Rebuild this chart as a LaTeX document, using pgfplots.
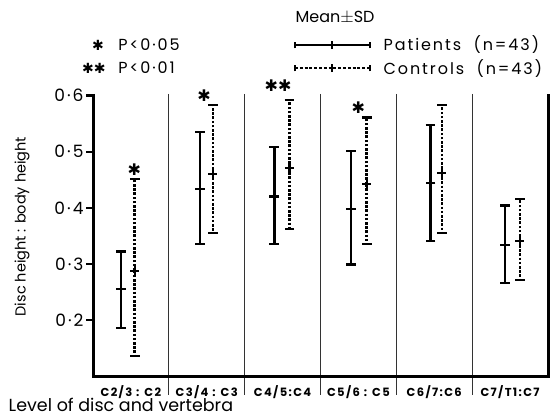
\documentclass[border=0pt]{standalone}
\usepackage{pgfplots}
\pgfplotsset{compat=1.18}
\usepackage{pgfplotstable}
\usepackage{fontspec}
\setmainfont{Poppins}
\newfontfamily\dejavu{DejaVu Sans}
\newfontfamily\spaced{Poppins}[LetterSpace=12]

\pgfplotstableread{
x y ep em
-0.13 0.255 0.067 0.069
0.91 0.434 0.101 0.099
1.89 0.420 0.089 0.085
2.90 0.398 0.104 0.099
3.95 0.444 0.103 0.103
4.935 0.334 0.070 0.068
}\patients

\pgfplotstableread{
x y ep em
0.05 0.288 0.163 0.152
1.08 0.461 0.122 0.106
2.09 0.471 0.122 0.109
3.11 0.442 0.119 0.107
4.10 0.462 0.122 0.107
5.13 0.341 0.075 0.070
}\controls

\pgfplotstableread{
x y label
0.045 0.468 ✱
0.965 0.600 ✱
1.94 0.617 ✱✱
3.00 0.579 ✱
}\stars

\begin{document}
\begin{tikzpicture}
\begin{axis}[
  name=ax,
  scale only axis, width=455pt, height=282pt,
  xmin=-0.5, xmax=5.5, ymin=0.1, ymax=0.603,
  axis x line=bottom, axis y line=left,
  axis line style={-, draw=none},
  clip=false,
  xtick={0,1,2,3,4,5},
  xticklabels={C2/3 : C2, C3/4 : C3, C4/5:C4, C5/6 : C5, C6/7:C6, C7/T1:C7},
  x tick style={draw=none},
  xticklabel style={font=\spaced\fontsize{11.5}{12}\selectfont\bfseries, anchor=base, yshift=-17pt},
  ytick={0.2,0.3,0.4,0.5,0.6},
  yticklabels={0·2,0·3,0·4,0·5,0·6},
  ytick align=outside,
  every tick/.style={line width=2.4pt, black},
  y tick style={line width=2.4pt, black},
  major tick length=6pt,
  yticklabel style={font=\spaced\fontsize{17}{17}\selectfont},
  ylabel={Disc height : body height},
  ylabel style={at={(axis description cs:-0.156,0.53)}, anchor=center, font=\fontsize{14.5}{15}\selectfont},
  xlabel={Level of disc and vertebra},
  xlabel style={at={(axis description cs:-0.193,-0.103)}, anchor=west, font=\fontsize{17.5}{18}\selectfont},
]
% separators
\draw[line width=0.7pt, black!80] (axis cs:0.5,0.603) -- (axis cs:0.5,0.066);
\draw[line width=0.7pt, black!80] (axis cs:1.5,0.603) -- (axis cs:1.5,0.066);
\draw[line width=0.7pt, black!80] (axis cs:2.5,0.603) -- (axis cs:2.5,0.066);
\draw[line width=0.7pt, black!80] (axis cs:3.5,0.603) -- (axis cs:3.5,0.066);
\draw[line width=0.7pt, black!80] (axis cs:4.5,0.603) -- (axis cs:4.5,0.066);

% patients
\addplot[black, only marks, mark=-, mark size=4.8pt, mark options={line width=2.2pt},
  error bars/.cd, y dir=both, y explicit,
  error bar style={line width=2.6pt},
  error mark options={rotate=90, line width=2.2pt, mark size=4.8pt}]
  table[x=x, y=y, y error plus=ep, y error minus=em] {\patients};

% controls
\addplot[black, only marks, mark=+, mark size=4.5pt, mark options={line width=2.2pt, solid},
  error bars/.cd, y dir=both, y explicit,
  error bar style={line width=2.6pt, dash pattern=on 2.6pt off 1.6pt},
  error mark options={rotate=90, line width=2.2pt, mark size=4.8pt, solid}]
  table[x=x, y=y, y error plus=ep, y error minus=em] {\controls};

% significance stars
\addplot[draw=none, mark=none, nodes near coords, point meta=explicit symbolic,
  every node near coord/.append style={anchor=center, font=\dejavu\fontsize{16}{16}\selectfont, inner sep=0pt}]
  table[x=x, y=y, meta=label] {\stars};

% legend
\node[font=\fontsize{16}{16}\selectfont] at (axis description cs:0.532,1.270) {Mean$\pm$SD};
\draw[line width=1.8pt] (axis description cs:0.444,1.174) -- (axis description cs:0.609,1.174);
\draw[line width=1.6pt] (axis description cs:0.444,1.162) -- (axis description cs:0.444,1.186);
\draw[line width=1.6pt] (axis description cs:0.609,1.162) -- (axis description cs:0.609,1.186);
\draw[line width=1.6pt] (axis description cs:0.525,1.160) -- (axis description cs:0.525,1.188);
\node[anchor=west, font=\spaced\fontsize{16}{16}\selectfont] at (axis description cs:0.631,1.174) {Patients\ \ (n=43)};

\draw[line width=1.8pt, dash pattern=on 3pt off 1.8pt] (axis description cs:0.444,1.092) -- (axis description cs:0.609,1.092);
\draw[line width=1.6pt] (axis description cs:0.444,1.080) -- (axis description cs:0.444,1.104);
\draw[line width=1.6pt] (axis description cs:0.609,1.080) -- (axis description cs:0.609,1.104);
\draw[line width=1.6pt] (axis description cs:0.525,1.078) -- (axis description cs:0.525,1.106);
\node[anchor=west, font=\spaced\fontsize{16}{16}\selectfont] at (axis description cs:0.631,1.092) {Controls\ \ (n=43)};

\node[font=\dejavu\fontsize{14}{14}\selectfont] at (axis description cs:0.011,1.174) {✱};
\node[anchor=west, font=\spaced\fontsize{16}{16}\selectfont] at (axis description cs:0.048,1.174) {P<0·05};
\node[font=\dejavu\fontsize{14}{14}\selectfont] at (axis description cs:0.002,1.092) {✱✱};
\node[anchor=west, font=\spaced\fontsize{16}{16}\selectfont] at (axis description cs:0.048,1.092) {P<0·01};

\coordinate (BL) at (rel axis cs:0,0);
\coordinate (TL) at (rel axis cs:0,1);
\coordinate (BR) at (rel axis cs:1,0);
\coordinate (TR) at (rel axis cs:1,1);
\coordinate (Y2) at (axis cs:-0.5,0.2);
\coordinate (Y3) at (axis cs:-0.5,0.3);
\coordinate (Y4) at (axis cs:-0.5,0.4);
\coordinate (Y5) at (axis cs:-0.5,0.5);
\coordinate (Y6) at (axis cs:-0.5,0.6);
\end{axis}
% frame (left, bottom, right) and outward y ticks
\draw[line width=3pt, black, line join=miter] (TL) -- (BL) -- (BR) -- (TR);
\foreach \t in {Y2,Y3,Y4,Y5,Y6} {\draw[line width=2.4pt, black] (\t) -- ++(-7pt,0pt);}
\pgfresetboundingbox
\path (BL) ++(-93pt,-42pt) rectangle ++(552pt,418pt);
\end{tikzpicture}
\end{document}
